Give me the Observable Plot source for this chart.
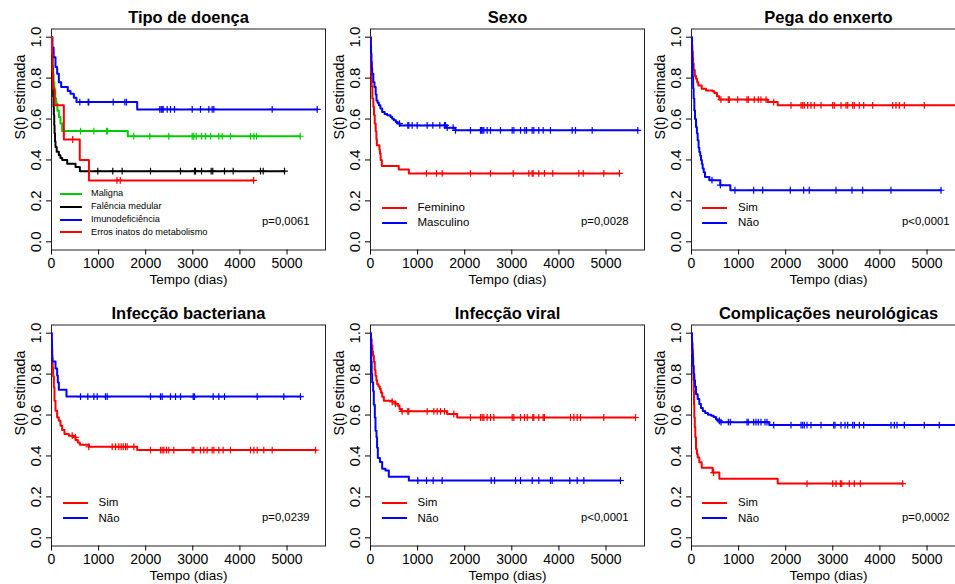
<!DOCTYPE html>
<html><head><meta charset="utf-8">
<script src="https://cdn.jsdelivr.net/npm/d3@7"></script>
<script src="https://cdn.jsdelivr.net/npm/@observablehq/plot@0.6"></script>
<style>
html,body{margin:0;padding:0;background:#fff;}
#wrap{position:relative;width:955px;height:584px;overflow:hidden;background:#fff;font-family:"Liberation Sans",Arial,sans-serif;}
#wrap svg{position:absolute;overflow:visible;background:transparent;}
.leg{position:absolute;white-space:nowrap;color:#000;line-height:1;}
.sw{position:absolute;height:0;border-top:2px solid;}
</style></head>
<body><div id="wrap"></div>
<script>
// ---------- data ----------
const xTicks = [0, 1000, 2000, 3000, 4000, 5000];
const yTicks = [0, 0.2, 0.4, 0.6, 0.8, 1.0];
const titles = ["Tipo de doença", "Sexo", "Pega do enxerto", "Infecção bacteriana", "Infecção viral", "Complicações neurológicas"];
const pValues = ["p=0,0061", "p=0,0028", "p<0,0001", "p=0,0239", "p<0,0001", "p=0,0002"];

// Tipo de doença
const malignaSteps = [[0,1],[8,0.95],[15,0.9],[25,0.86],[35,0.82],[45,0.78],[60,0.74],[80,0.70],[100,0.675],[125,0.64],[156,0.61],[191,0.578],[226,0.541],[1620,0.516]];
const malignaCensor = [616,899,1168,1189,1747,2087,2490,2987,3021,3070,3185,3270,3376,3552,3624,3800,4225,4295,4352,5280];
const falenciaSteps = [[0,1],[5,0.95],[10,0.9],[15,0.85],[20,0.8],[28,0.75],[35,0.71],[42,0.66],[50,0.62],[58,0.57],[65,0.53],[75,0.49],[85,0.463],[110,0.44],[156,0.423],[190,0.41],[227,0.4],[333,0.382],[510,0.366],[602,0.345]];
const falenciaCensor = [983,1301,1500,2102,2738,3036,3057,3185,3390,3424,3673,3857,4437,4494,4947];
const imunoSteps = [[0,1],[20,0.95],[45,0.902],[85,0.854],[120,0.821],[156,0.78],[205,0.756],[346,0.737],[403,0.724],[474,0.704],[530,0.683],[1819,0.647]];
const imunoCensor = [601,778,792,1310,1557,1592,2299,2329,2350,2371,2456,2526,2611,2987,3163,3340,3411,3446,4685,5641];
const errosSteps = [[0,1],[10,0.917],[20,0.833],[30,0.75],[64,0.667],[262,0.5],[600,0.4],[795,0.3]];
const errosCensor = [450,1390,1460,4290];

// Sexo
const femSteps = [[0,1],[5,0.93],[10,0.87],[15,0.82],[25,0.76],[40,0.70],[60,0.66],[75,0.62],[90,0.578],[110,0.54],[125,0.5],[135,0.472],[190,0.45],[200,0.431],[215,0.4],[240,0.371],[600,0.353],[814,0.334]];
const femCensor = [1189,1401,1522,2123,2548,3030,3361,3432,3453,3573,3694,3870,4423,4516,4953,5286];
const mascSteps = [[0,1],[5,0.96],[12,0.92],[20,0.88],[28,0.85],[35,0.821],[60,0.78],[85,0.756],[110,0.72],[127,0.691],[150,0.68],[177,0.667],[210,0.651],[248,0.634],[300,0.625],[354,0.618],[425,0.61],[460,0.602],[495,0.594],[540,0.585],[580,0.578],[623,0.569],[1613,0.558],[1800,0.545]];
const mascCensor = [616,792,813,884,991,1203,1323,1472,1571,1592,1628,1755,1804,2123,2335,2357,2385,2406,2477,2548,2760,3008,3044,3185,3276,3312,3432,3467,3573,3666,3821,4282,4352,4706,5675];

// Pega do enxerto
const pegaSimSteps = [[0,1],[5,0.98],[10,0.96],[18,0.93],[25,0.9],[35,0.87],[46,0.84],[70,0.81],[96,0.797],[120,0.78],[145,0.764],[216,0.748],[308,0.74],[449,0.736],[485,0.727],[541,0.711],[591,0.695],[1617,0.683],[1830,0.667]];
const pegaSimCensor = [626,781,803,981,1178,1206,1333,1418,1475,1582,1745,2112,2325,2361,2395,2467,2537,2607,2749,2998,3032,3174,3280,3316,3422,3457,3563,3656,3847,4271,4341,4412,4518,4943,5640];
const pegaNaoSteps = [[0,1],[10,0.93],[18,0.87],[25,0.805],[35,0.75],[45,0.70],[60,0.642],[75,0.6],[96,0.561],[115,0.53],[131,0.496],[150,0.46],[166,0.439],[185,0.42],[202,0.4],[220,0.38],[237,0.358],[260,0.34],[287,0.317],[379,0.301],[612,0.277],[824,0.252]];
const pegaNaoCensor = [435,612,923,1320,1511,2097,2381,2500,3067,3407,3634,4235,5297];

// Infecção bacteriana
const bactSimSteps = [[0,1],[5,0.96],[10,0.92],[15,0.88],[25,0.83],[35,0.79],[50,0.735],[64,0.67],[85,0.621],[120,0.588],[156,0.572],[191,0.548],[226,0.527],[276,0.507],[368,0.499],[474,0.491],[510,0.478],[559,0.466],[601,0.455],[792,0.445],[1819,0.429]];
const bactSimCensor = [439,509,792,1288,1359,1429,1480,1522,1571,1607,1748,2102,2314,2350,2384,2441,2490,2596,2987,3022,3163,3234,3305,3411,3446,3552,3645,3800,4225,4295,4367,4507,4685,5605];
const bactNaoSteps = [[0,1],[5,0.966],[10,0.931],[13,0.897],[15,0.862],[85,0.828],[120,0.793],[134,0.759],[156,0.724],[318,0.69]];
const bactNaoCensor = [616,771,899,970,1146,1182,2102,2314,2350,2526,2633,2739,3008,3036,3433,3552,3673,4367,4932,5286];

// Infecção viral
const viralSimSteps = [[0,1],[10,0.97],[25,0.94],[40,0.91],[55,0.89],[71,0.86],[90,0.82],[106,0.792],[125,0.77],[142,0.751],[170,0.74],[198,0.727],[220,0.71],[248,0.689],[283,0.67],[460,0.665],[530,0.655],[580,0.645],[616,0.629],[651,0.618],[1628,0.605],[1840,0.588]];
const viralSimCensor = [460,530,672,792,813,1203,1345,1416,1486,1571,1769,2123,2335,2371,2406,2477,2548,2618,3008,3044,3185,3270,3327,3446,3467,3573,3666,3694,4246,4317,4388,4458,4953,5626];
const viralNaoSteps = [[0,1],[8,0.93],[15,0.86],[25,0.8],[35,0.76],[56,0.718],[70,0.65],[92,0.588],[106,0.523],[127,0.491],[140,0.44],[156,0.39],[200,0.37],[248,0.337],[318,0.329],[389,0.299],[814,0.28]];
const viralNaoCensor = [1004,1189,1331,1522,2562,2633,3079,3185,3433,3573,3821,3857,4231,4388,4529,5307];

// Complicações neurológicas
const neuroSimSteps = [[0,1],[10,0.95],[20,0.9],[30,0.84],[40,0.77],[46,0.718],[53,0.65],[60,0.588],[70,0.54],[81,0.491],[96,0.434],[115,0.41],[131,0.393],[166,0.369],[216,0.343],[449,0.319],[591,0.289],[1830,0.265]];
const neuroSimCensor = [470,2452,2998,3068,3160,3189,3351,3457,3584,4483];
const neuroNaoSteps = [[0,1],[8,0.96],[15,0.92],[25,0.88],[35,0.84],[46,0.8],[60,0.77],[75,0.74],[96,0.702],[131,0.678],[166,0.654],[200,0.635],[240,0.62],[290,0.61],[350,0.602],[420,0.596],[470,0.59],[520,0.58],[560,0.572],[620,0.565],[1650,0.551]];
const neuroNaoCensor = [591,626,782,824,1178,1206,1320,1369,1418,1475,1560,1603,1745,2112,2325,2361,2395,2452,2537,2749,3019,3047,3174,3259,3316,3422,3457,3563,3656,4235,4306,4363,4518,4943,5261,5615];

const legendTipo = ["Maligna", "Falência medular", "Imunodeficiência", "Erros inatos do metabolismo"];
const legendSexo = ["Feminino", "Masculino"];
const legendSimNao = ["Sim", "Não"];

const RED = "#ff0000", BLUE = "#0000ff", GREEN = "#00cd00", BLACK = "#000000";

const panels = [
  {curves: [
    {name: legendTipo[0], color: GREEN, steps: malignaSteps, censor: malignaCensor},
    {name: legendTipo[1], color: BLACK, steps: falenciaSteps, censor: falenciaCensor},
    {name: legendTipo[2], color: BLUE, steps: imunoSteps, censor: imunoCensor},
    {name: legendTipo[3], color: RED, steps: errosSteps, censor: errosCensor}], small: true},
  {curves: [
    {name: legendSexo[0], color: RED, steps: femSteps, censor: femCensor},
    {name: legendSexo[1], color: BLUE, steps: mascSteps, censor: mascCensor}]},
  {curves: [
    {name: legendSimNao[0], color: RED, steps: pegaSimSteps, censor: pegaSimCensor},
    {name: legendSimNao[1], color: BLUE, steps: pegaNaoSteps, censor: pegaNaoCensor}]},
  {curves: [
    {name: legendSimNao[0], color: RED, steps: bactSimSteps, censor: bactSimCensor},
    {name: legendSimNao[1], color: BLUE, steps: bactNaoSteps, censor: bactNaoCensor}]},
  {curves: [
    {name: legendSimNao[0], color: RED, steps: viralSimSteps, censor: viralSimCensor},
    {name: legendSimNao[1], color: BLUE, steps: viralNaoSteps, censor: viralNaoCensor}]},
  {curves: [
    {name: legendSimNao[0], color: RED, steps: neuroSimSteps, censor: neuroSimCensor},
    {name: legendSimNao[1], color: BLUE, steps: neuroNaoSteps, censor: neuroNaoCensor}]}
];

// ---------- layout ----------
const FONT = '"Liberation Sans", Arial, sans-serif';
const colLeft = [0, 319, 639.5];
const rowTop = [0, 295.5];
const W = 330, H = 295, ML = 51, MR = 5, MT = 28.5, MB = 45.5;

const plusSymbol = {
  draw(ctx, size) {
    const r = Math.sqrt(size / Math.PI);
    ctx.moveTo(-r, 0); ctx.lineTo(r, 0);
    ctx.moveTo(0, -r); ctx.lineTo(0, r);
  }
};

function stepAt(steps, t) {
  let s = steps[0][1];
  for (const [tt, ss] of steps) if (tt <= t) s = ss;
  return s;
}

const wrap = document.getElementById("wrap");

panels.forEach((p, i) => {
  const col = i % 3, row = Math.floor(i / 3);
  const marks = [];
  marks.push(Plot.frame({stroke: "#222"}));
  marks.push(Plot.axisX({ticks: xTicks, tickSize: 5, tickPadding: 3, tickFormat: d => String(d), label: null, fontSize: 14}));
  marks.push(Plot.axisY({ticks: yTicks, tickSize: 5, tickRotate: -90, tickPadding: 5.5, tickFormat: d => d.toFixed(1), label: null, fontSize: 15}));
  p.curves.forEach(c => {
    const end = d3.max(c.censor);
    const pts = c.steps.map(([t, s]) => ({t, s}));
    pts.push({t: end, s: c.steps[c.steps.length - 1][1]});
    marks.push(Plot.line(pts, {x: "t", y: "s", curve: "step-after", stroke: c.color, strokeWidth: 2, clip: true}));
    const cens = c.censor.map(t => ({t, s: stepAt(c.steps, t)}));
    marks.push(Plot.dot(cens, {x: "t", y: "s", r: 3.4, symbol: plusSymbol, stroke: c.color, fill: "none", strokeWidth: 1.2, clip: true}));
  });
  marks.push(Plot.text([titles[i]], {frameAnchor: "top", lineAnchor: "bottom", dy: -6.5, text: d => d, fontSize: 16.5, fontWeight: "bold"}));
  marks.push(Plot.text(["Tempo (dias)"], {frameAnchor: "bottom", lineAnchor: "middle", dy: 30, text: d => d, fontSize: 13.5}));
  marks.push(Plot.text(["S(t) estimada"], {frameAnchor: "left", lineAnchor: "middle", rotate: -90, dx: -31, text: d => d, fontSize: 14.3}));
  marks.push(Plot.text([pValues[i]], {frameAnchor: "bottom-right", textAnchor: "end", lineAnchor: "middle", dx: -16, dy: -29, text: d => d, fontSize: 11.3}));

  const svg = Plot.plot({
    width: W, height: H,
    marginLeft: ML, marginRight: MR, marginTop: MT, marginBottom: MB,
    x: {domain: [0, 5817]},
    y: {domain: [-0.04, 1.04]},
    style: {fontFamily: FONT, fontSize: "14px", color: "#000", background: "transparent", overflow: "visible"},
    marks
  });
  svg.style.left = colLeft[col] + "px";
  svg.style.top = rowTop[row] + "px";
  wrap.appendChild(svg);

  // legend overlay (inside the frame, R-style)
  const fx = colLeft[col] + ML, fy = rowTop[row] + MT;
  const small = !!p.small;
  const rows = small ? [165.5, 178.5, 191.2, 203.8] : [179.2, 194.3];
  const lx1 = small ? 9 : 11.5, lx2 = small ? 31 : 36.5, tx = small ? 40 : 47.5;
  const fs = small ? 9.2 : 11.5;
  p.curves.forEach((c, k) => {
    const sw = document.createElement("div");
    sw.className = "sw";
    sw.style.left = (fx + lx1) + "px";
    sw.style.width = (lx2 - lx1) + "px";
    sw.style.top = (fy + rows[k] - 1) + "px";
    sw.style.borderTopColor = c.color;
    wrap.appendChild(sw);
    const t = document.createElement("div");
    t.className = "leg";
    t.textContent = c.name;
    t.style.fontSize = fs + "px";
    t.style.left = (fx + tx) + "px";
    t.style.top = (fy + rows[k] - fs * 0.5) + "px";
    wrap.appendChild(t);
  });
});
</script></body></html>
